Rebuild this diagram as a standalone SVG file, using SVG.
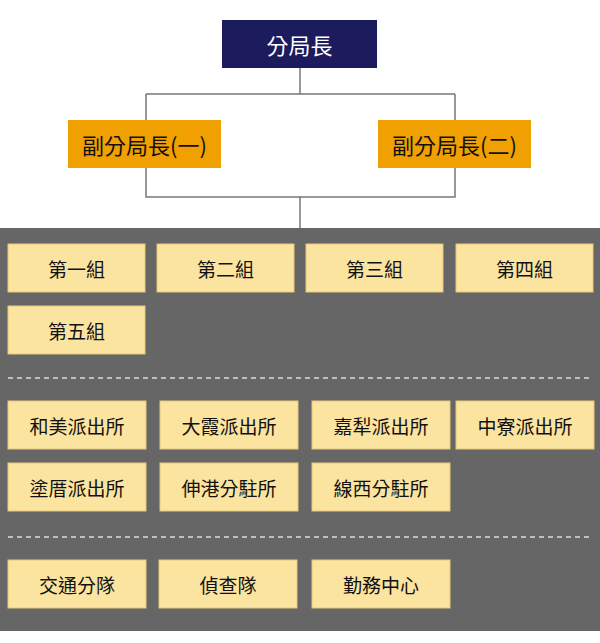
<svg xmlns="http://www.w3.org/2000/svg" width="600" height="643" viewBox="0 0 600 643">
<style>
text{font-family:"Noto Sans CJK TC","Noto Sans CJK SC",sans-serif;text-anchor:middle;dominant-baseline:central}
.u{fill:#fbe3a0;stroke:#e8c877;stroke-width:1}
.u+text{font-size:19px;fill:#111}
.o{fill:#f0a000}
.o+text{font-size:22px;fill:#111}
.c{fill:none;stroke:#777;stroke-width:1.5}
.d{stroke:#ddd;stroke-width:1.5;stroke-dasharray:5 4}
</style>
<rect width="600" height="643" fill="#fff"/>
<rect x="0" y="228" width="600" height="403" fill="#666"/>
<g id="connectors">
<path class="c" d="M300 68V94M146 94H455M146 94V120M455 94V120M146 168V197H455V168M300 197V228"/>
<line class="d" x1="8" y1="378" x2="593" y2="378"/>
<line class="d" x1="8" y1="537" x2="593" y2="537"/>
</g>
<g id="n0"><rect x="222" y="20" width="155" height="48" fill="#1b1b5e"/><text x="299.5" y="44" font-size="22" fill="#fff">分局長</text></g>
<g id="n1"><rect class="o" x="68" y="120" width="153" height="48"/><text x="144.5" y="144">副分局長(一)</text></g>
<g id="n2"><rect class="o" x="378" y="120" width="153" height="48"/><text x="454.5" y="144">副分局長(二)</text></g>
<g id="g1"><rect class="u" x="8" y="244" width="137" height="48"/><text x="76.5" y="268">第一組</text></g>
<g id="g2"><rect class="u" x="157" y="244" width="137" height="48"/><text x="225.5" y="268">第二組</text></g>
<g id="g3"><rect class="u" x="306" y="244" width="137" height="48"/><text x="374.5" y="268">第三組</text></g>
<g id="g4"><rect class="u" x="456" y="244" width="137" height="48"/><text x="524.5" y="268">第四組</text></g>
<g id="g5"><rect class="u" x="8" y="306" width="137" height="48"/><text x="76.5" y="330">第五組</text></g>
<g id="p1"><rect class="u" x="8" y="401" width="138" height="48"/><text x="77" y="425">和美派出所</text></g>
<g id="p2"><rect class="u" x="160" y="401" width="138" height="48"/><text x="229" y="425">大霞派出所</text></g>
<g id="p3"><rect class="u" x="312" y="401" width="138" height="48"/><text x="381" y="425">嘉犁派出所</text></g>
<g id="p4"><rect class="u" x="456" y="401" width="138" height="48"/><text x="525" y="425">中寮派出所</text></g>
<g id="p5"><rect class="u" x="8" y="463" width="138" height="48"/><text x="77" y="487">塗厝派出所</text></g>
<g id="p6"><rect class="u" x="160" y="463" width="138" height="48"/><text x="229" y="487">伸港分駐所</text></g>
<g id="p7"><rect class="u" x="312" y="463" width="138" height="48"/><text x="381" y="487">線西分駐所</text></g>
<g id="t1"><rect class="u" x="8" y="560" width="138" height="48"/><text x="77" y="584">交通分隊</text></g>
<g id="t2"><rect class="u" x="159" y="560" width="138" height="48"/><text x="228" y="584">偵查隊</text></g>
<g id="t3"><rect class="u" x="312" y="560" width="138" height="48"/><text x="381" y="584">勤務中心</text></g>
</svg>
